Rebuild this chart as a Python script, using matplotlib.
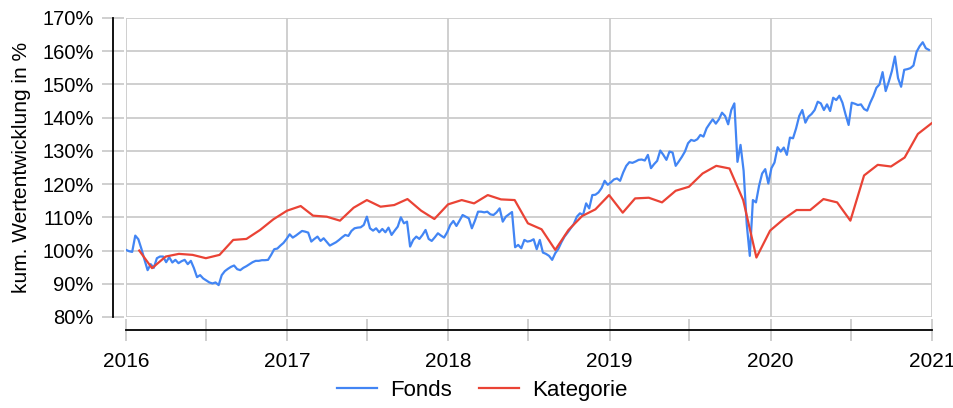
import matplotlib
matplotlib.use("Agg")
import matplotlib.pyplot as plt
import matplotlib.dates as mdates
from matplotlib.ticker import FuncFormatter, MultipleLocator
import pandas as pd

# weekly values of the fund, first week of 2016 to the last week of 2020
fonds = [
    100.2, 99.8, 99.6, 104.5, 103.4, 100.5, 97.2, 94.1, 95.9, 94.8,
    97.7, 98.2, 98.2, 96.5, 98.0, 96.4, 97.2, 96.2, 96.8, 97.2,
    95.9, 96.9, 94.7, 92.0, 92.6, 91.6, 91.0, 90.4, 90.1, 90.4,
    89.6, 92.6, 93.8, 94.5, 95.1, 95.5, 94.4, 94.1, 94.8, 95.3,
    95.9, 96.5, 96.9, 96.9, 97.1, 97.1, 97.2, 98.7, 100.4, 100.6,
    101.5, 102.3, 103.5, 104.9, 103.9, 104.5, 105.2, 105.9, 105.7, 105.4,
    102.7, 103.5, 104.2, 102.9, 103.7, 102.6, 101.5, 102.0, 102.5, 103.2,
    104.0, 104.7, 104.4, 105.9, 106.7, 106.9, 107.0, 107.7, 110.2, 106.7,
    106.0, 106.7, 105.5, 106.5, 105.5, 106.9, 104.7, 106.0, 107.2, 110.0,
    108.2, 108.7, 101.2, 103.2, 104.2, 103.5, 104.7, 106.2, 103.5, 102.9,
    104.0, 105.2, 104.5, 103.9, 105.5, 107.7, 108.9, 107.4, 109.0, 110.7,
    110.2, 109.7, 106.7, 109.0, 111.7, 111.7, 111.5, 111.7, 110.9, 110.7,
    111.5, 112.7, 108.7, 110.2, 110.9, 111.6, 101.0, 101.7, 100.7, 103.2,
    102.7, 102.9, 103.4, 100.4, 103.2, 99.4, 99.0, 98.4, 97.2, 99.2,
    100.5, 102.5, 104.2, 105.4, 106.7, 108.0, 110.2, 111.2, 110.7, 114.2,
    112.7, 116.7, 116.8, 117.5, 118.8, 121.0, 119.8, 120.5, 121.4, 121.7,
    121.0, 123.5, 125.5, 126.6, 126.4, 126.8, 127.3, 127.4, 127.1, 128.8,
    124.8, 126.0, 127.0, 130.1, 128.8, 127.3, 129.8, 129.5, 125.5, 126.8,
    128.2, 129.8, 132.3, 133.3, 133.0, 133.5, 134.8, 134.3, 136.8, 138.2,
    139.5, 138.2, 139.5, 141.5, 140.5, 138.0, 142.3, 144.3, 126.7, 131.8,
    124.0, 108.0, 98.4, 115.2, 114.5, 119.5, 123.2, 124.5, 120.2, 124.8,
    126.5, 131.1, 129.8, 131.0, 128.8, 134.0, 133.8, 136.8, 140.5, 142.3,
    138.5, 140.3, 141.1, 142.3, 144.8, 144.3, 142.3, 144.0, 142.0, 146.0,
    145.3, 146.6, 144.5, 141.0, 137.8, 144.5, 144.2, 143.8, 144.0, 142.6,
    142.1, 144.5, 146.5, 149.0, 150.0, 153.7, 148.0, 150.8, 154.0, 158.4,
    151.9, 149.3, 154.4, 154.6, 154.9, 155.7, 159.8, 161.5, 162.7, 160.9,
    160.4,
]

# monthly values of the peer category, Jan 2016 to Dec 2020
kategorie = [
    100.0, 94.7, 98.2, 99.0, 98.7, 97.7, 98.7, 103.2, 103.5, 106.2, 109.4, 112.0,
    113.4, 110.5, 110.2, 109.0, 112.9, 115.2, 113.2, 113.7, 115.5, 112.0, 109.5, 113.9,
    115.2, 114.2, 116.7, 115.4, 115.2, 108.2, 106.4, 100.2, 106.2, 110.4, 112.4, 116.7,
    111.4, 115.7, 115.9, 114.5, 118.0, 119.2, 123.2, 125.5, 124.7, 115.2, 97.9, 106.0,
    109.5, 112.2, 112.2, 115.5, 114.5, 109.0, 122.6, 125.8, 125.3, 128.0, 135.1, 138.3,
]

fonds_dates = pd.date_range("2016-01-01", periods=len(fonds), freq="7D")
kat_dates = pd.date_range("2016-01-31", periods=len(kategorie), freq="ME")

blue = "#4285f4"
red = "#ea4335"
grid_grey = "#cccccc"

plt.rcParams["font.family"] = ["Liberation Sans", "DejaVu Sans"]
plt.rcParams["font.size"] = 14

fig = plt.figure(figsize=(9.54, 4.08), dpi=100)
ax = fig.add_axes([126 / 954, 1 - 317 / 408, 806 / 954, 299 / 408])

ax.plot(fonds_dates, fonds, color=blue, lw=1.6, label="Fonds", zorder=3)
ax.plot(kat_dates, kategorie, color=red, lw=1.6, label="Kategorie", zorder=3)

ax.set_xlim(pd.Timestamp("2016-01-01"), pd.Timestamp("2021-01-01"))
ax.set_ylim(80, 170)
ax.yaxis.set_major_locator(MultipleLocator(10))
ax.yaxis.set_major_formatter(FuncFormatter(lambda v, p: f"{v:.0f}%"))
ax.xaxis.set_major_locator(mdates.YearLocator())
ax.xaxis.set_minor_locator(mdates.MonthLocator(bymonth=7))
ax.xaxis.set_major_formatter(mdates.DateFormatter("%Y"))

ax.grid(True, which="major", color=grid_grey, lw=1.3)
ax.set_axisbelow(True)
# no grid line at the first year, the axis sits there
ax.xaxis.get_gridlines()[0].set_visible(False)

for side in ["top", "right"]:
    ax.spines[side].set_visible(False)
for side in ["left", "bottom"]:
    ax.spines[side].set_position(("outward", 9.4))
    ax.spines[side].set_linewidth(1.3)
    ax.spines[side].set_color("black")
    ax.spines[side].set_zorder(4)

ax.tick_params(axis="both", which="both", direction="inout", length=15.5,
               width=1.3, color=grid_grey)
ax.tick_params(axis="y", pad=6, labelsize=14.5)
ax.tick_params(axis="x", pad=8, labelsize=15)

ax.set_ylabel("kum. Wertentwicklung in %", labelpad=8, fontsize=15)

fig.legend(loc="lower center", bbox_to_anchor=(482 / 954, -0.032), ncol=2,
           frameon=False, fontsize=16, handlelength=1.8, handletextpad=0.6,
           columnspacing=1.2)

fig.savefig("out.png", dpi=100)
